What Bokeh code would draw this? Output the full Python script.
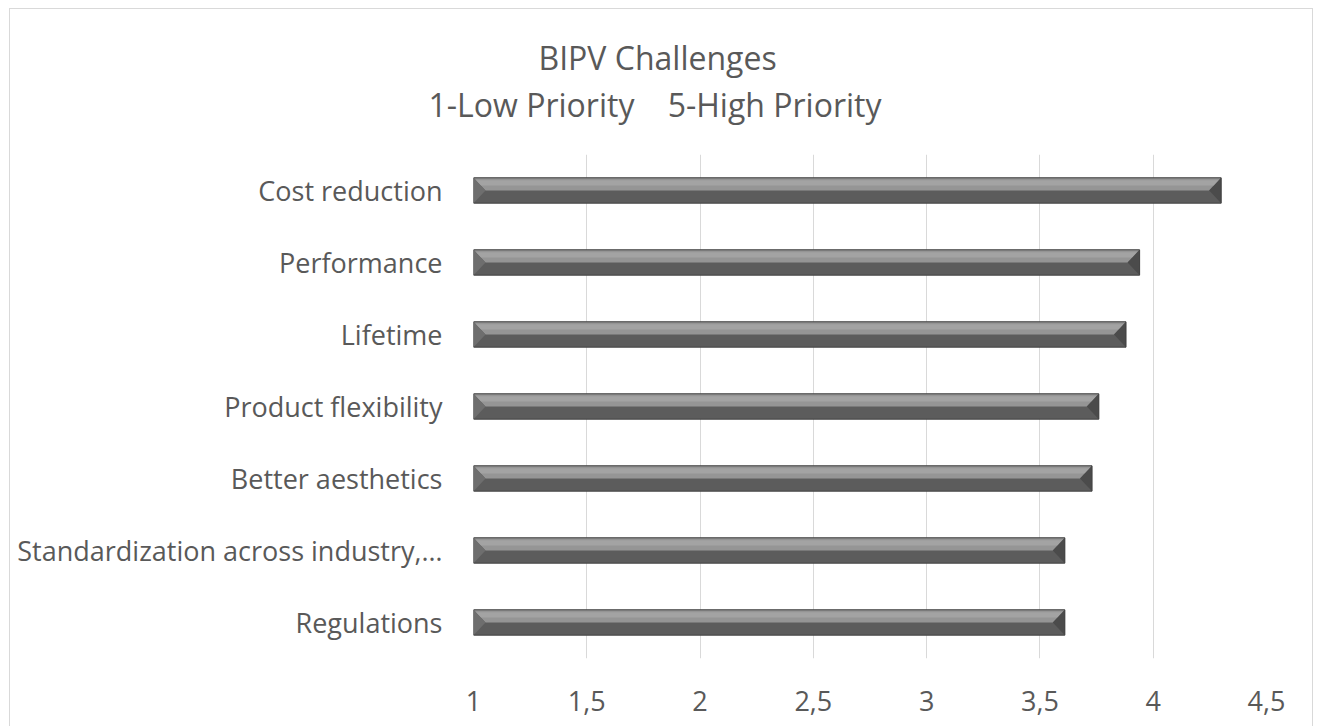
import numpy as np
from bokeh.plotting import figure
from bokeh.models import Range1d, FixedTicker, Title
from bokeh.embed import file_html
from bokeh.resources import INLINE

# ---- data ----
categories = [
    "Cost reduction",
    "Performance",
    "Lifetime",
    "Product flexibility",
    "Better aesthetics",
    "Standardization across industry,…",
    "Regulations",
]
values = [4.30, 3.94, 3.88, 3.76, 3.73, 3.61, 3.61]
x_ticks = [1, 1.5, 2, 2.5, 3, 3.5, 4, 4.5]
x_tick_labels = ["1", "1,5", "2", "2,5", "3", "3,5", "4", "4,5"]
title_line1 = "BIPV Challenges"
title_line2 = "1-Low Priority    5-High Priority"
baseline = 1

# ---- styling ----
FONT = "Open Sans"
TXT = "#595959"
GRID = "#d9d9d9"
n = len(categories)
ypos = np.arange(n)[::-1].astype(float)  # first category on top
vals = np.array(values, dtype=float)
hh = 0.176          # half bar height (category units)
dx = 0.053          # bevel depth (x units)

p = figure(width=1304, height=718, output_backend="svg", toolbar_location=None,
           x_range=Range1d(1, 4.5), y_range=Range1d(-0.5, n - 0.5),
           min_border_left=463, min_border_right=48, min_border_top=145,
           min_border_bottom=69, outline_line_color=None,
           background_fill_color="white", border_fill_color="white")
p.styles = {"margin-left": "9px", "margin-top": "8px",
            "border-left": "1px solid #d9d9d9", "border-right": "1px solid #d9d9d9",
            "border-top": "1px solid #d9d9d9"}

# gridlines
p.xgrid.ticker = FixedTicker(ticks=x_ticks)
p.xgrid.grid_line_color = GRID
p.xgrid.grid_line_width = 1
p.ygrid.grid_line_color = None

# bars: base (front face)
p.quad(left=baseline, right=vals, top=ypos + hh, bottom=ypos - hh,
       fill_color="#5c5c5c", line_color=None)
# top bevel face
top_xs = [[baseline, v, v - dx, baseline + dx] for v in vals]
top_ys = [[y + hh, y + hh, y, y] for y in ypos]
p.patches(top_xs, top_ys, fill_color="#959595", line_color=None)
# lighter upper band on the top face
band_xs = [[baseline + dx * 0.2, v - dx * 0.2, v - dx * 0.6, baseline + dx * 0.6] for v in vals]
band_ys = [[y + hh * 0.8, y + hh * 0.8, y + hh * 0.4, y + hh * 0.4] for y in ypos]
p.patches(band_xs, band_ys, fill_color="#a3a3a3", line_color=None)
# left bevel face
l_xs = [[baseline, baseline + dx, baseline] for v in vals]
l_ys = [[y + hh, y, y - hh] for y in ypos]
p.patches(l_xs, l_ys, fill_color="#6e6e6e", line_color=None)
# right bevel face
r_xs = [[v, v - dx, v] for v in vals]
r_ys = [[y + hh, y, y - hh] for y in ypos]
p.patches(r_xs, r_ys, fill_color="#4b4b4b", line_color=None)
# outline
p.quad(left=baseline, right=vals, top=ypos + hh, bottom=ypos - hh,
       fill_color=None, line_color="#424242", line_width=1)

# axes
p.xaxis.ticker = FixedTicker(ticks=x_ticks)
p.xaxis.major_label_overrides = {t: s for t, s in zip(x_ticks, x_tick_labels)}
p.yaxis.ticker = FixedTicker(ticks=list(ypos))
p.yaxis.major_label_overrides = {float(y): c for y, c in zip(ypos, categories)}
for ax in (p.xaxis[0], p.yaxis[0]):
    ax.axis_line_color = None
    ax.major_tick_line_color = None
    ax.minor_tick_line_color = None
    ax.major_tick_out = 0
    ax.major_tick_in = 0
    ax.minor_tick_out = 0
    ax.minor_tick_in = 0
    ax.major_label_text_font = FONT
    ax.major_label_text_font_size = "27px"
    ax.major_label_text_color = TXT
p.xaxis.major_label_standoff = 32
p.yaxis.major_label_standoff = 31

# title (two lines): first added sits closest to the plot area.
# runs of spaces are kept visible with no-break spaces
line2_shown = title_line2.replace("    ", " \u00a0\u00a0\u00a0")
p.add_layout(Title(text=line2_shown, align="left", offset=-45, standoff=58,
                   text_font=FONT, text_font_size="32px", text_color=TXT,
                   text_font_style="normal"), "above")
p.add_layout(Title(text=title_line1, align="left", offset=65, standoff=-55,
                   text_font=FONT, text_font_size="32px", text_color=TXT,
                   text_font_style="normal"), "above")

open("out.html", "w").write(file_html(p, INLINE))
